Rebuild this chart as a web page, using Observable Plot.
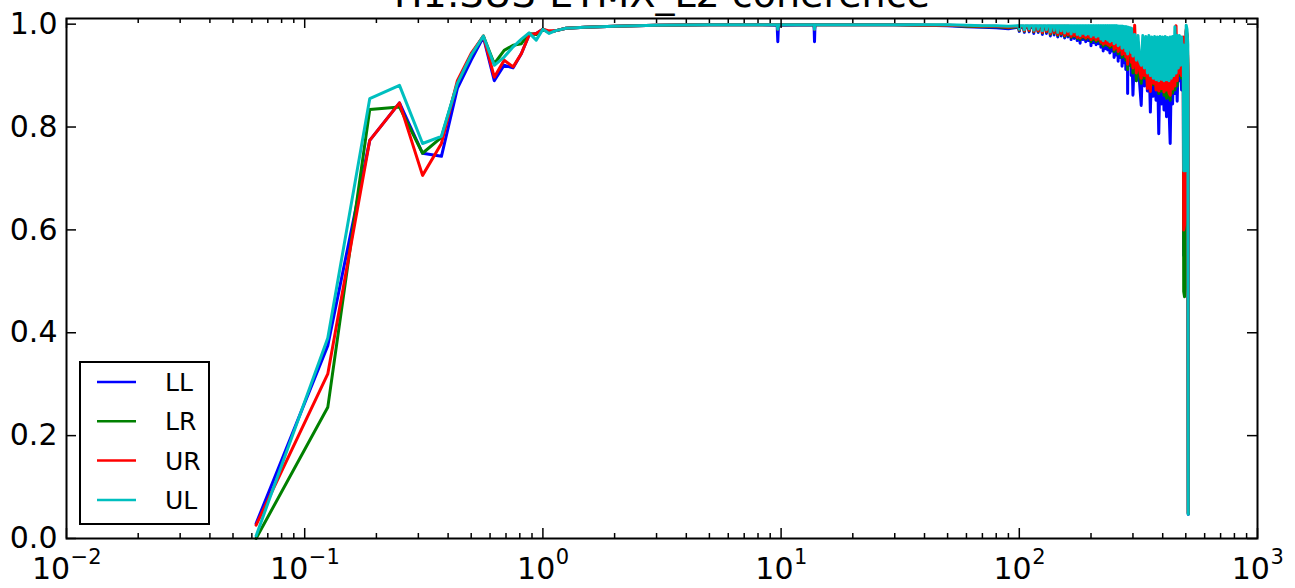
<!DOCTYPE html>
<html><head><meta charset="utf-8">
<script src="https://cdn.jsdelivr.net/npm/d3@7"></script>
<script src="https://cdn.jsdelivr.net/npm/@observablehq/plot@0.6"></script>
<style>
html,body{margin:0;padding:0;background:#fff;}
#wrap{position:relative;width:1295px;height:588px;overflow:hidden;background:#fff;}
#legend{position:absolute;left:79px;top:361px;}
</style></head>
<body><div id="wrap"></div>
<script>
const title = "H1:SUS-ETMX_L2 coherence";
const seriesNames = ["LL", "LR", "UR", "UL"];
const seriesColors = ["#0000ff", "#008000", "#ff0000", "#00bfbf"];

// frequency (Hz), low band and upper band
const freq = [
  0.0625, 0.125, 0.1875, 0.25, 0.3125, 0.375, 0.4375, 0.5, 0.5625, 0.625, 0.6875, 0.75, 0.8125, 0.875, 0.9375,
  1.0, 1.0625, 1.125, 1.25, 1.5, 2, 3, 5, 8, 9.625, 9.6875, 9.75, 13.75, 13.8125, 13.875, 20, 30, 40, 50,
  60, 70, 80, 90,
  300, 305, 310, 315, 320, 325, 330, 335, 340, 345, 350, 355, 360, 365, 370, 375, 380, 385, 390, 395,
  400, 405, 410, 415, 420, 425, 430, 435, 440, 445, 450, 455, 460, 465, 470, 475, 480, 485,
  488, 490, 494, 498, 502, 506, 510, 512
];

const LL = [
  0.029, 0.375, 0.774, 0.847, 0.749, 0.743, 0.875, 0.930, 0.975, 0.890, 0.920, 0.915, 0.943, 0.979, 0.982,
  0.990, 0.985, 0.987, 0.992, 0.994, 0.996, 0.998, 0.999, 0.999, 0.998, 0.966, 0.998, 0.999, 0.966, 0.999, 0.999, 0.999, 0.998, 0.997,
  0.995, 0.994, 0.993, 0.991,
  0.862, 0.955, 0.890, 0.950, 0.885, 0.842, 0.948, 0.880, 0.945, 0.870, 0.940, 0.829, 0.935, 0.860, 0.930, 0.852, 0.935, 0.787, 0.925, 0.845,
  0.930, 0.833, 0.920, 0.820, 0.925, 0.840, 0.768, 0.915, 0.845, 0.925, 0.865, 0.930, 0.850, 0.935, 0.890, 0.940, 0.872, 0.930,
  0.900, 0.550, 0.560, 0.600, 0.985, 0.970, 0.900, 0.047
];
const LR = [
  0.000, 0.255, 0.834, 0.839, 0.749, 0.780, 0.885, 0.940, 0.977, 0.923, 0.949, 0.959, 0.962, 0.982, 0.980,
  0.990, 0.984, 0.987, 0.992, 0.994, 0.996, 0.998, 0.999, 0.999, 0.999, 0.992, 0.999, 0.999, 0.992, 0.999, 0.999, 0.999, 0.998, 0.998,
  0.996, 0.995, 0.995, 0.993,
  0.905, 0.962, 0.890, 0.958, 0.900, 0.885, 0.955, 0.895, 0.952, 0.880, 0.950, 0.872, 0.946, 0.882, 0.945, 0.875, 0.948, 0.865, 0.940, 0.870,
  0.945, 0.862, 0.938, 0.856, 0.940, 0.862, 0.852, 0.935, 0.866, 0.940, 0.872, 0.945, 0.880, 0.950, 0.900, 0.955, 0.895, 0.950,
  0.930, 0.480, 0.470, 0.500, 0.988, 0.975, 0.920, 0.048
];
const UR = [
  0.026, 0.320, 0.774, 0.847, 0.706, 0.768, 0.890, 0.943, 0.977, 0.897, 0.930, 0.917, 0.943, 0.979, 0.982,
  0.990, 0.987, 0.987, 0.992, 0.994, 0.996, 0.998, 0.999, 0.999, 0.999, 0.990, 0.999, 0.999, 0.990, 0.999, 0.999, 0.999, 0.998, 0.998,
  0.997, 0.996, 0.996, 0.994,
  0.915, 0.998, 0.905, 0.965, 0.910, 0.895, 0.962, 0.900, 0.960, 0.875, 0.958, 0.869, 0.955, 0.885, 0.952, 0.872, 0.955, 0.870, 0.950, 0.875,
  0.952, 0.868, 0.948, 0.872, 0.950, 0.866, 0.862, 0.945, 0.874, 0.950, 0.880, 0.997, 0.890, 0.960, 0.905, 0.962, 0.900, 0.960,
  0.975, 0.600, 0.610, 0.640, 0.990, 0.980, 0.930, 0.050
];
const UL = [
  0.005, 0.390, 0.855, 0.881, 0.768, 0.782, 0.885, 0.940, 0.977, 0.920, 0.936, 0.956, 0.971, 0.983, 0.969,
  0.990, 0.982, 0.987, 0.992, 0.994, 0.996, 0.998, 0.999, 0.999, 0.999, 0.990, 0.999, 0.999, 0.990, 0.999, 0.999, 0.999, 0.999, 0.999,
  0.998, 0.997, 0.997, 0.996,
  0.938, 0.980, 0.930, 0.978, 0.928, 0.920, 0.978, 0.915, 0.976, 0.905, 0.978, 0.900, 0.975, 0.895, 0.976, 0.892, 0.975, 0.890, 0.976, 0.893,
  0.975, 0.890, 0.976, 0.892, 0.974, 0.890, 0.975, 0.895, 0.976, 0.900, 0.995, 0.905, 0.978, 0.915, 0.978, 0.920, 0.975, 0.930,
  0.960, 0.715, 0.715, 0.715, 0.998, 0.990, 0.960, 0.047
];

// 100-295 Hz: narrow dips ("needles") below a near-flat top
const needleFreq = [100, 105, 110, 115, 120, 125, 130, 135, 140, 145, 150, 155, 160, 165, 170, 175, 180, 185, 190, 195,
  200, 205, 210, 215, 220, 225, 230, 235, 240, 245, 250, 255, 260, 265, 270, 275, 280, 285, 290, 295];
const LL_top = [0.994, 0.994, 0.994, 0.994, 0.994, 0.994, 0.994, 0.994, 0.994, 0.994, 0.994, 0.994, 0.994, 0.993, 0.993, 0.993, 0.993, 0.993, 0.993, 0.993,
  0.993, 0.993, 0.992, 0.992, 0.992, 0.992, 0.992, 0.992, 0.991, 0.991, 0.991, 0.991, 0.990, 0.990, 0.990, 0.989, 0.989, 0.988, 0.988, 0.987];
const LL_dip = [0.986, 0.984, 0.985, 0.982, 0.984, 0.980, 0.982, 0.977, 0.979, 0.975, 0.977, 0.973, 0.975, 0.970, 0.972, 0.968, 0.963, 0.970, 0.966, 0.968,
  0.958, 0.964, 0.960, 0.962, 0.955, 0.948, 0.952, 0.950, 0.944, 0.948, 0.935, 0.940, 0.928, 0.935, 0.918, 0.925, 0.912, 0.865, 0.920, 0.900];
const LR_top = [0.995, 0.995, 0.995, 0.995, 0.995, 0.995, 0.995, 0.995, 0.995, 0.995, 0.995, 0.995, 0.995, 0.994, 0.994, 0.994, 0.994, 0.994, 0.994, 0.994,
  0.994, 0.994, 0.993, 0.993, 0.993, 0.993, 0.993, 0.993, 0.992, 0.992, 0.992, 0.992, 0.991, 0.991, 0.991, 0.990, 0.990, 0.989, 0.989, 0.988];
const LR_dip = [0.988, 0.986, 0.987, 0.985, 0.986, 0.983, 0.985, 0.980, 0.982, 0.978, 0.980, 0.976, 0.978, 0.974, 0.976, 0.972, 0.970, 0.974, 0.971, 0.973,
  0.966, 0.970, 0.966, 0.968, 0.962, 0.957, 0.960, 0.958, 0.954, 0.956, 0.947, 0.950, 0.942, 0.946, 0.935, 0.938, 0.930, 0.912, 0.932, 0.918];
const UR_top = [0.996, 0.996, 0.996, 0.996, 0.996, 0.996, 0.996, 0.996, 0.996, 0.996, 0.996, 0.996, 0.996, 0.995, 0.995, 0.995, 0.995, 0.995, 0.995, 0.995,
  0.995, 0.995, 0.994, 0.994, 0.994, 0.994, 0.994, 0.994, 0.993, 0.993, 0.993, 0.993, 0.992, 0.992, 0.992, 0.991, 0.991, 0.990, 0.990, 0.989];
const UR_dip = [0.989, 0.987, 0.988, 0.986, 0.987, 0.984, 0.986, 0.982, 0.984, 0.980, 0.982, 0.978, 0.980, 0.976, 0.978, 0.974, 0.973, 0.976, 0.973, 0.975,
  0.970, 0.973, 0.969, 0.971, 0.965, 0.961, 0.963, 0.961, 0.958, 0.960, 0.951, 0.954, 0.947, 0.950, 0.941, 0.943, 0.936, 0.922, 0.940, 0.926];
const UL_top = [0.997, 0.997, 0.997, 0.997, 0.997, 0.997, 0.997, 0.997, 0.997, 0.997, 0.997, 0.997, 0.997, 0.997, 0.997, 0.997, 0.997, 0.997, 0.997, 0.997,
  0.997, 0.997, 0.997, 0.997, 0.997, 0.997, 0.997, 0.997, 0.997, 0.997, 0.997, 0.997, 0.996, 0.996, 0.996, 0.995, 0.995, 0.994, 0.993, 0.992];
const UL_dip = [0.990, 0.989, 0.991, 0.988, 0.990, 0.987, 0.989, 0.985, 0.988, 0.984, 0.987, 0.983, 0.986, 0.981, 0.985, 0.980, 0.978, 0.982, 0.979, 0.981,
  0.976, 0.979, 0.975, 0.977, 0.971, 0.968, 0.972, 0.969, 0.966, 0.968, 0.962, 0.965, 0.958, 0.961, 0.953, 0.955, 0.948, 0.942, 0.950, 0.945];

const yTicks = [0, 0.2, 0.4, 0.6, 0.8, 1.0];
const yTickLabels = ["0.0", "0.2", "0.4", "0.6", "0.8", "1.0"];
const xMajor = [0.01, 0.1, 1, 10, 100, 1000];
const xTickBase = "10";
const xTickExponents = ["\u22122", "\u22121", "0", "1", "2", "3"];

const W = 1295, H = 588, mL = 66, mR = 38, mT = 18, mB = 50;
const fw = W - mL - mR, fh = H - mT - mB;

const xMinor = [];
for (let k = 0; k < xMajor.length - 1; k++) for (let m = 2; m <= 9; m++) xMinor.push(xMajor[k] * m);

const seriesValues = [LL, LR, UR, UL];
const seriesTops = [LL_top, LR_top, UR_top, UL_top];
const seriesDips = [LL_dip, LR_dip, UR_dip, UL_dip];
const halfWidth = 0.75; // Hz, half width of each narrow dip
const rows = [];
seriesNames.forEach((s, i) => {
  const pts = freq.map((f, j) => ({f, v: seriesValues[i][j]}));
  needleFreq.forEach((f, j) => {
    pts.push({f: f - halfWidth, v: seriesTops[i][j]}, {f, v: seriesDips[i][j]}, {f: f + halfWidth, v: seriesTops[i][j]});
  });
  pts.sort((a, b) => a.f - b.f);
  pts.forEach(p => rows.push({series: s, f: p.f, v: p.v}));
});

// x tick labels: "10" plus raised exponent, grouped by exponent length
const twoChar = xMajor.filter((d, i) => xTickExponents[i].length === 2);
const oneChar = xMajor.filter((d, i) => xTickExponents[i].length === 1);
const expOf = d => xTickExponents[xMajor.indexOf(d)];
const baseFs = 30, expFs = 21;
const wBase = 1.272 * baseFs;
const j2 = (wBase - (0.838 + 0.636) * expFs) / 2;
const j1 = (wBase - 0.636 * expFs) / 2;
const labelMarks = [];
[[twoChar, j2], [oneChar, j1]].forEach(([ticks, j]) => {
  labelMarks.push(Plot.text(ticks, {x: d => d, text: () => xTickBase, frameAnchor: "bottom", textAnchor: "end",
    lineAnchor: "middle", dx: j, dy: 30.5, fontSize: baseFs, fill: "black"}));
  labelMarks.push(Plot.text(ticks, {x: d => d, text: expOf, frameAnchor: "bottom", textAnchor: "start",
    lineAnchor: "middle", dx: j + 0.5, dy: 18.5, fontSize: expFs, fill: "black"}));
});

const tickStyle = {stroke: "black", strokeWidth: 1.5};
const plot = Plot.plot({
  width: W, height: H,
  marginLeft: mL, marginRight: mR, marginTop: mT, marginBottom: mB,
  style: {fontFamily: "DejaVu Sans", fontSize: "30px", background: "white", color: "black"},
  x: {type: "log", domain: [0.01, 1000], axis: null},
  y: {domain: [0, 1.011], axis: null},
  color: {domain: seriesNames, range: seriesColors},
  marks: [
    Plot.line(rows, {x: "f", y: "v", z: "series", stroke: "series", strokeWidth: 3, strokeLinejoin: "round"}),
    Plot.tickY(yTicks, {y: d => d, insetRight: fw - 10, ...tickStyle}),
    Plot.tickY(yTicks, {y: d => d, insetLeft: fw - 10, ...tickStyle}),
    Plot.tickX(xMajor, {x: d => d, insetTop: fh - 10, ...tickStyle}),
    Plot.tickX(xMajor, {x: d => d, insetBottom: fh - 10, ...tickStyle}),
    Plot.tickX(xMinor, {x: d => d, insetTop: fh - 5, ...tickStyle}),
    Plot.tickX(xMinor, {x: d => d, insetBottom: fh - 5, ...tickStyle}),
    Plot.frame({stroke: "black", strokeWidth: 2}),
    Plot.axisY(yTicks, {anchor: "left", label: null, tickSize: 0, tickPadding: 9, fontSize: 30,
      tickFormat: d => yTickLabels[yTicks.indexOf(d)]}),
    ...labelMarks,
    Plot.text([title], {text: d => d, frameAnchor: "top", lineAnchor: "top", dy: -38, fontSize: 38, fill: "black"})
  ]
});
const wrap = document.getElementById("wrap");
wrap.appendChild(plot);

// legend
const lg = d3.select(wrap).append("svg").attr("id", "legend")
  .attr("width", 132).attr("height", 165);
lg.append("rect").attr("x", 1).attr("y", 1).attr("width", 129).attr("height", 162)
  .attr("fill", "white").attr("stroke", "black").attr("stroke-width", 2);
seriesNames.forEach((s, i) => {
  const cy = 21 + i * 39.3;
  lg.append("line").attr("x1", 18).attr("x2", 57).attr("y1", cy).attr("y2", cy)
    .attr("stroke", seriesColors[i]).attr("stroke-width", 2.5);
  lg.append("text").attr("x", 86).attr("y", cy).attr("dy", "0.36em")
    .attr("font-family", "DejaVu Sans").attr("font-size", 25).text(s);
});
</script>
</body></html>
